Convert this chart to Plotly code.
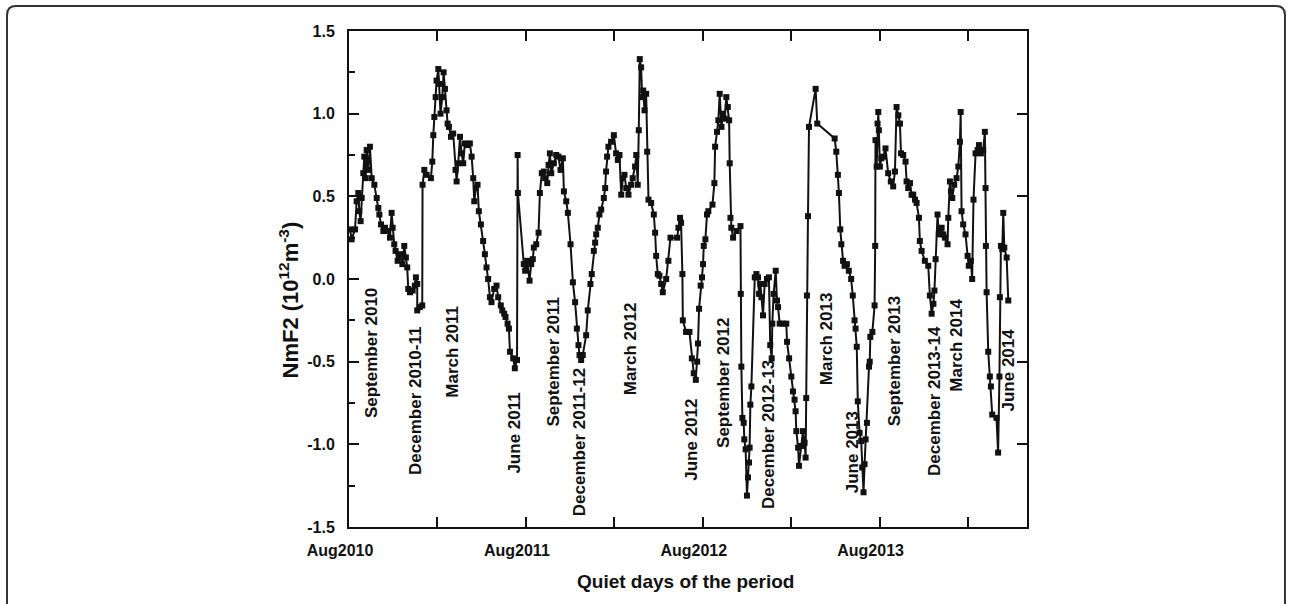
import plotly.graph_objects as go

# Quiet-day NmF2 deviation, x in months counted from August 2010
months = [
    0.07, 0.18, 0.41, 0.52, 0.63, 0.70, 0.79, 0.86, 0.97, 1.04, 1.13, 1.20, 1.31, 1.42, 1.54,
    1.72, 1.88, 1.99, 2.06, 2.17, 2.33, 2.44, 2.62, 2.78, 2.89, 2.96, 3.07, 3.16, 3.30, 3.46,
    3.62, 3.75, 3.86, 3.95, 4.02, 4.14, 4.32, 4.47, 4.54, 4.63, 4.63, 4.81, 4.97, 4.99, 5.11,
    5.27, 5.56, 5.65, 5.72, 5.79, 5.88, 5.94, 6.06, 6.12, 6.21, 6.33, 6.42, 6.51, 6.62, 6.69,
    6.78, 6.92, 7.07, 7.23, 7.30, 7.41, 7.53, 7.64, 7.75, 7.86, 8.05, 8.20, 8.32, 8.43, 8.50,
    8.61, 8.72, 8.81, 8.95, 9.10, 9.22, 9.33, 9.44, 9.56, 9.67, 9.85, 10.01, 10.12, 10.30, 10.40,
    10.53, 10.62, 10.76, 10.85, 10.92, 11.14, 11.25, 11.40, 11.44, 11.46,
    11.86, 11.95, 12.09, 12.25, 12.36, 12.47, 12.54, 12.70, 12.86, 12.95, 13.08, 13.22, 13.31,
    13.45, 13.54, 13.63, 13.72, 13.90, 14.06, 14.21, 14.35, 14.51, 14.58, 14.74, 14.85, 15.03,
    15.19, 15.34, 15.46, 15.57, 15.64, 15.75, 15.86, 16.09, 16.20, 16.38, 16.47, 16.61, 16.70,
    16.77, 16.88, 16.99, 17.11, 17.29, 17.38, 17.44, 17.51, 17.60, 17.78, 17.97, 18.12, 18.24,
    18.35, 18.47, 18.58, 18.69, 18.81, 18.96, 19.14, 19.25, 19.41, 19.49, 19.59, 19.66, 19.73,
    19.82, 19.89, 19.96, 20.05, 20.16, 20.23, 20.32, 20.50, 20.68, 20.77, 20.84, 20.95, 21.06,
    21.18, 21.29, 21.52, 21.67, 21.81, 22.26, 22.35, 22.46, 22.53, 22.62, 22.65, 22.87, 23.10,
    23.26,
    23.39, 23.53, 23.62, 23.68, 23.75, 23.86, 23.95, 24.02, 24.07, 24.18, 24.29, 24.38, 24.66,
    24.79, 24.84, 24.97, 25.06, 25.15, 25.27, 25.38, 25.49, 25.60, 25.70, 25.79, 25.83, 25.88,
    25.94, 26.06, 26.29, 26.56, 26.58, 26.62, 26.69, 26.78, 26.82, 26.91, 27.00, 27.07, 27.14,
    27.18, 27.23, 27.30, 27.53, 27.64, 27.75, 27.82, 27.91, 27.98, 28.09, 28.20, 28.36, 28.49,
    28.58, 28.68, 28.72, 28.81, 28.95, 29.04, 29.11, 29.22, 29.45, 29.67, 29.72, 29.86, 30.01,
    30.12, 30.23, 30.30, 30.35, 30.47, 30.53, 30.69, 30.80, 30.91, 30.98, 31.02, 31.07, 31.14,
    31.21, 31.66, 31.77, 32.95, 33.06, 33.17, 33.24, 33.33, 33.40, 33.52, 33.62, 33.78, 33.91,
    34.07, 34.18, 34.30, 34.37, 34.45, 34.52, 34.64, 34.75, 34.82, 34.91,
    34.98, 35.05, 35.14, 35.28, 35.33, 35.37, 35.51, 35.66, 35.70, 35.72,
    35.80, 35.86, 35.91, 35.95, 36.02, 36.12, 36.24, 36.40, 36.58, 36.76, 36.92, 37.04, 37.15,
    37.27, 37.38, 37.45, 37.60, 37.76, 37.83, 37.94, 38.06, 38.17, 38.28, 38.40, 38.51, 38.67,
    38.73, 38.85, 39.07, 39.30, 39.41, 39.53, 39.65, 39.72, 39.80, 39.93, 40.02, 40.21, 40.32,
    40.43, 40.61, 40.66, 40.77, 40.84, 40.93, 41.06, 41.22, 41.34, 41.45, 41.50, 41.56, 41.67,
    41.83, 41.97, 42.05, 42.19, 42.28, 42.37, 42.51, 42.65, 42.74, 42.87, 43.03, 43.14, 43.19,
    43.21, 43.26, 43.37, 43.48, 43.55, 43.64, 43.93, 44.04, 44.13, 44.16, 44.23, 44.32, 44.39,
    44.46, 44.62, 44.73,
]

nmf2 = [
    0.30, 0.24, 0.30, 0.47, 0.52, 0.41, 0.35, 0.49, 0.64, 0.74, 0.61, 0.78, 0.66, 0.80, 0.61,
    0.57, 0.49, 0.43, 0.39, 0.33, 0.29, 0.31, 0.29, 0.25, 0.40, 0.31, 0.21, 0.17, 0.11, 0.15,
    0.09, 0.20, 0.13, 0.07, -0.06, -0.08, -0.07, -0.04, 0.01, -0.03, -0.19, -0.17, -0.16, 0.57, 0.66,
    0.63, 0.61, 0.71, 0.87, 0.98, 1.10, 1.20, 1.27, 1.18, 1.00, 1.10, 1.25, 1.15, 1.02, 0.94,
    0.92, 0.86, 0.88, 0.66, 0.59, 0.70, 0.86, 0.76, 0.70, 0.82, 0.81, 0.82, 0.74, 0.61, 0.47,
    0.55, 0.57, 0.41, 0.33, 0.23, 0.15, 0.07, 0.00, -0.11, -0.14, -0.06, -0.04, -0.11, -0.16, -0.19,
    -0.21, -0.23, -0.27, -0.30, -0.44, -0.48, -0.54, -0.49, 0.75, 0.52,
    0.09, 0.05, 0.11, -0.01, 0.09, 0.12, 0.19, 0.21, 0.28, 0.52, 0.64, 0.65, 0.61,
    0.58, 0.69, 0.76, 0.64, 0.70, 0.75, 0.74, 0.66, 0.73, 0.53, 0.47, 0.40, 0.21,
    -0.02, -0.14, -0.30, -0.40, -0.46, -0.49, -0.46, -0.34, -0.19, -0.03, 0.03, 0.17, 0.22,
    0.27, 0.31, 0.39, 0.42, 0.49, 0.55, 0.65, 0.74, 0.80, 0.83, 0.87, 0.76, 0.72,
    0.75, 0.51, 0.61, 0.63, 0.55, 0.51, 0.57, 0.61, 0.68, 0.75, 0.57, 0.90, 1.33,
    1.28, 1.10, 1.14, 1.02, 1.12, 0.77, 0.48, 0.46, 0.39, 0.28, 0.14, 0.03, 0.02,
    -0.03, -0.08, 0.00, 0.11, 0.25, 0.25, 0.31, 0.37, 0.34, 0.03, -0.25, -0.32, -0.32,
    -0.48,
    -0.57, -0.61, -0.50, -0.39, -0.18, -0.04, 0.01, 0.09, 0.20, 0.24, 0.39, 0.41, 0.45,
    0.58, 0.80, 0.89, 0.96, 1.12, 0.92, 1.00, 0.97, 1.10, 1.04, 0.96, 0.70, 0.37,
    0.31, 0.25, 0.29, 0.32, -0.09, -0.53, -0.84, -0.87, -0.97, -1.03, -1.31, -1.20, -1.11,
    -1.02, -0.76, -0.65, 0.01, 0.03, 0.01, -0.09, -0.03, -0.11, -0.22, -0.03, 0.00, 0.01,
    -0.40, -0.48, -0.27, -0.09, 0.05, -0.13, -0.17, -0.27, -0.27, -0.27, -0.38, -0.48, -0.59,
    -0.68, -0.73, -0.80, -0.92, -1.02, -1.13, -1.01, -0.92, -0.99, -1.08, -0.72, -0.10, 0.38,
    0.92, 1.15, 0.94, 0.85, 0.77, 0.63, 0.52, 0.30, 0.21, 0.11, 0.08, 0.09, 0.05,
    0.00, -0.10, -0.25, -0.30, -0.41, -0.74, -0.93, -0.98, -1.14, -1.29,
    -1.12, -0.97, -0.87, -0.53, -0.50, -0.35, -0.32, -0.16, 0.20, 0.84,
    0.68, 0.94, 1.01, 0.90, 0.68, 0.73, 0.74, 0.79, 0.64, 0.59, 0.56, 0.65, 1.04,
    0.99, 0.94, 0.76, 0.75, 0.71, 0.59, 0.55, 0.58, 0.51, 0.51, 0.48, 0.46, 0.37,
    0.23, 0.17, 0.11, 0.08, -0.10, -0.21, -0.15, -0.07, 0.12, 0.39, 0.27, 0.31, 0.27,
    0.25, 0.21, 0.37, 0.59, 0.53, 0.49, 0.57, 0.61, 0.68, 0.83, 1.01, 0.41, 0.33,
    0.27, 0.14, 0.08, 0.11, 0.00, 0.48, 0.76, 0.78, 0.81, 0.76, 0.78, 0.89, 0.55,
    0.20, -0.08, -0.44, -0.59, -0.65, -0.82, -0.84, -1.05, -0.59, -0.11, 0.20, 0.18, 0.40,
    0.19, 0.13, -0.13,
]

# Axis ticks
x_tick_months = [0, 6, 12, 18, 24, 30, 36, 42]
x_tick_text = ["Aug2010", " ", "Aug2011", " ", "Aug2012", " ", "Aug2013", " "]
y_tick_vals = [-1.5, -1.0, -0.5, 0.0, 0.5, 1.0, 1.5]
y_tick_text = ["-1.5", "-1.0", "-0.5", "0.0", "0.5", "1.0", "1.5"]

# Season labels written vertically inside the plot
season_labels = [
    "September 2010", "December 2010-11", "March 2011", "June 2011",
    "September 2011", "December 2011-12", "March 2012", "June 2012",
    "September 2012", "December 2012-13", "March 2013", "June 2013",
    "September 2013", "December 2013-14", "March 2014", "June 2014",
]
label_x = [1.54, 4.52, 7.05, 11.25, 13.9, 15.64, 19.12, 23.23,
           25.36, 28.47, 32.41, 34.17, 37.02, 39.73, 41.22, 44.75]
label_y = [-0.45, -0.74, -0.44, -0.93, -0.50, -0.99, -0.42, -0.97,
           -0.63, -0.94, -0.36, -1.05, -0.50, -0.74, -0.40, -0.55]

FONT = "Liberation Sans, Arial, sans-serif"
INK = "#111111"

fig = go.Figure()
fig.add_trace(go.Scatter(
    x=months, y=nmf2, mode="lines+markers",
    line=dict(color=INK, width=2),
    marker=dict(symbol="square", size=6, color=INK),
    showlegend=False, hoverinfo="skip",
))
# invisible trace to carry the right-hand tick marks
fig.add_trace(go.Scatter(x=[0], y=[0], yaxis="y2", mode="markers",
                         marker=dict(opacity=0), showlegend=False, hoverinfo="skip"))

fig.add_hline(y=0, line=dict(color=INK, width=1.5))

annotations = []
for text, lx, ly in zip(season_labels, label_x, label_y):
    annotations.append(dict(
        x=lx, y=ly, xref="x", yref="y", text=text, showarrow=False,
        xanchor="center", yanchor="middle", textangle=-90,
        font=dict(family=FONT, size=17, color=INK, weight="bold"),
    ))
annotations.append(dict(
    x=0.496, y=-0.109, xref="paper", yref="paper", text="Quiet days of the period",
    xanchor="center", yanchor="middle", showarrow=False,
    font=dict(family=FONT, size=19, color=INK, weight="bold"),
))
annotations.append(dict(
    x=-0.089, y=0.458, xref="paper", yref="paper",
    text="NmF2 (10<sup>12</sup>m<sup>-3</sup>)", textangle=-90, showarrow=False,
    xanchor="center", yanchor="middle",
    font=dict(family=FONT, size=22, color=INK, weight="bold"),
))

# rounded frame around the figure, open at the bottom
px0, px1, py0, py1 = -0.5044, 1.3805, 1.0504, -0.1673
rx, ry = 0.0133, 0.0181
frame_path = (f"M {px0},{py1} L {px0},{py0 - ry} Q {px0},{py0} {px0 + rx},{py0} "
              f"L {px1 - rx},{py0} Q {px1},{py0} {px1},{py0 - ry} L {px1},{py1}")

fig.update_layout(
    width=1292, height=604,
    margin=dict(l=349, r=265, t=31, b=77),
    paper_bgcolor="white", plot_bgcolor="white",
    font=dict(family=FONT, color=INK),
    xaxis=dict(
        range=[0, 46], showgrid=False, zeroline=False,
        showline=True, linecolor=INK, linewidth=2, mirror="ticks",
        ticks="inside", ticklen=10, tickwidth=1.5, tickcolor=INK,
        tickvals=x_tick_months, ticktext=x_tick_text,
        tickfont=dict(family=FONT, size=16, color=INK, weight="bold"),
        ticklabelstandoff=8, ticklabelshift=-9,
    ),
    yaxis=dict(
        range=[-1.5, 1.5], showgrid=False, zeroline=False,
        showline=True, linecolor=INK, linewidth=2, mirror=True,
        ticks="inside", ticklen=10, tickwidth=1.5, tickcolor=INK,
        tickvals=y_tick_vals, ticktext=y_tick_text,
        tickfont=dict(family=FONT, size=16, color=INK, weight="bold"),
        ticklabelstandoff=9,
        minor=dict(ticks="inside", ticklen=6, dtick=0.25, tickwidth=1.5,
                   tickcolor=INK, showgrid=False),
    ),
    yaxis2=dict(
        range=[-1.5, 1.5], overlaying="y", side="right", showgrid=False,
        zeroline=False, showline=False, showticklabels=False,
        ticks="inside", ticklen=10, tickwidth=1.5, tickcolor=INK,
        tickvals=[-1.0, -0.5, 0.5, 1.0],
    ),
    annotations=annotations,
    shapes=[dict(type="path", path=frame_path, xref="paper", yref="paper",
                 line=dict(color="#333333", width=2))],
)

fig.write_html("out.html")
